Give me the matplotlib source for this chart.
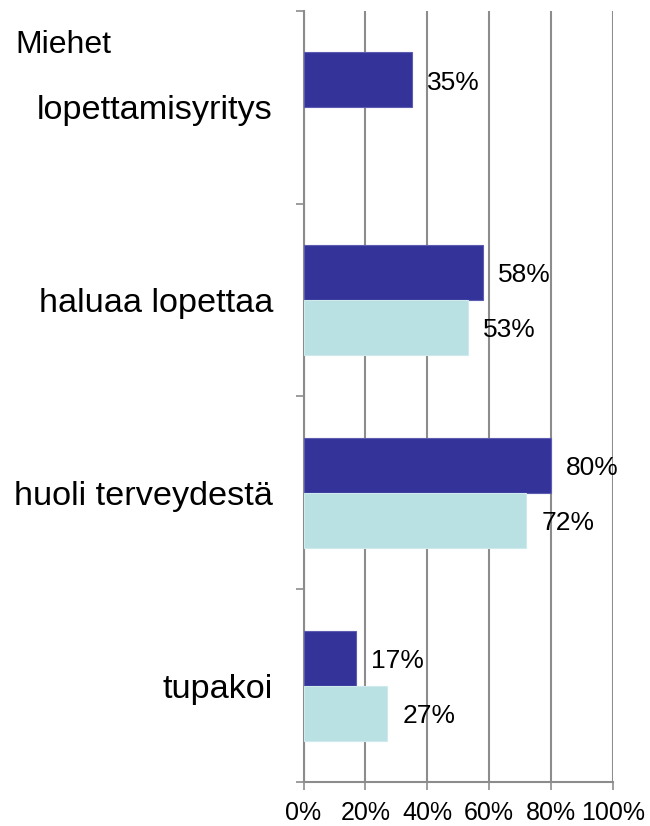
import matplotlib
matplotlib.use("Agg")
import matplotlib.pyplot as plt
import numpy as np

# luokat alhaalta ylös
categories = ["tupakoi", "huoli terveydestä", "haluaa lopettaa", "lopettamisyritys"]
dark_values = [17, 80, 58, 35]
light_values = [27, 72, 53, None]
x_ticks = [0, 20, 40, 60, 80, 100]

plt.rcParams['font.family'] = ['Liberation Sans', 'DejaVu Sans']

fig = plt.figure(figsize=(6.5, 8.26), dpi=100)
ax = fig.add_axes([0.467, 0.0533, 0.476, 0.9334])

y = np.arange(len(categories))
h = 0.285
dark = "#333399"
light = "#b9e0e3"

ax.barh(y + h / 2, dark_values, height=h, color=dark, edgecolor="#5c5cb0", linewidth=0.8, zorder=3)
for yi, v in zip(y, light_values):
    if v is not None:
        ax.barh(yi - h / 2, v, height=h, color=light, edgecolor="#cfeaec", linewidth=0.8, zorder=3)

# arvot palkkien perään
for yi, v in zip(y, dark_values):
    ax.annotate(f"{v}%", (v, yi + h / 2), xytext=(11, -2), textcoords="offset points",
                va="center", ha="left", fontsize=19)
for yi, v in zip(y, light_values):
    if v is not None:
        ax.annotate(f"{v}%", (v, yi - h / 2), xytext=(11, -2), textcoords="offset points",
                    va="center", ha="left", fontsize=19)

ax.set_xlim(0, 100)
ax.set_ylim(-0.5, len(categories) - 0.5)
ax.set_xticks(x_ticks)
ax.set_xticklabels([f"{t}%" for t in x_ticks], fontsize=18)
ax.set_yticks(y)
ax.set_yticklabels(categories, fontsize=24.7)
ax.set_yticks(np.arange(-0.5, len(categories)), minor=True)

ax.tick_params(axis="y", which="major", length=0, pad=22)
ax.tick_params(axis="y", which="minor", length=6, color="#8c8c8c", width=1.2)
ax.tick_params(axis="x", length=6, color="#8c8c8c", width=1.2, pad=7.5)

ax.xaxis.grid(True, color="#8c8c8c", linewidth=1.5, zorder=0)
ax.set_axisbelow(True)
for s in ["top", "right"]:
    ax.spines[s].set_visible(False)
for s in ["left", "bottom"]:
    ax.spines[s].set_color("#8c8c8c")
    ax.spines[s].set_linewidth(1.5)

fig.text(15 / 650, 1 - 45 / 826, "Miehet", fontsize=23, va="center", ha="left")

fig.savefig("out.png", dpi=100)
